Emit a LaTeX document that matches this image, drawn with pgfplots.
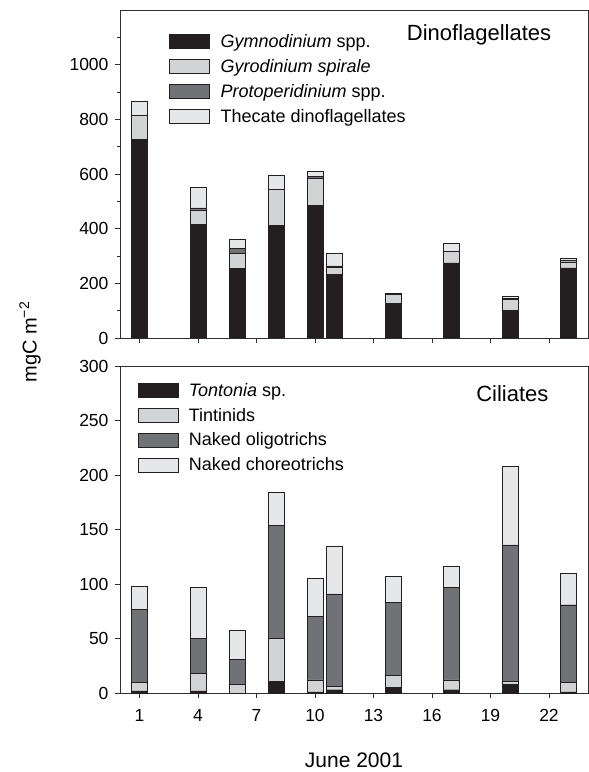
\documentclass[border=0pt]{standalone}
\usepackage{fontspec}
\setmainfont{Liberation Sans}
\usepackage{pgfplots}
\pgfplotsset{compat=1.18}
\usepackage{pgfplotstable}
\definecolor{cblack}{HTML}{231F20}
\definecolor{clight}{HTML}{D1D3D4}
\definecolor{cdark}{HTML}{717275}
\definecolor{cvlight}{HTML}{E6E7E8}
\definecolor{cframe}{HTML}{2E2E2E}

\pgfplotstableread{
day gym gyr pro the
1   727 89  0   51
4   416 53  7   77
6   255 54  20  34
8   413 130 0   53
10  486 99  6   20
11  232 27  5   47
14  127 33  0   5
17  275 44  0   26
20  100 41  4   9
23  257 22  6   7
}\dino

\pgfplotstableread{
day ton tin oli cho
1   2   8   67  21
4   2   16  32  47
6   0   8   23  27
8   11  39  104 30
10  1   11  58  35
11  3   3   85  44
14  5   11  67  24
17  3   9   85  19
20  8   3   125 72
23  1   9   71  29
}\cil

\pgfplotsset{
  common/.style={
    scale only axis, width=468pt,
    xmin=0, xmax=24, xtick={1,4,...,22},
    ybar stacked, bar width=0.82, ymin=0,
    tick align=outside, tick pos=left,
    major tick length=5pt, minor tick length=3pt,
    axis line style={cframe, line width=0.9pt},
    every tick/.style={cframe, line width=0.8pt},
    tick label style={font=\fontsize{17.5}{20}\selectfont},
    yticklabel style={xshift=-3pt},
    xticklabel style={yshift=-8pt},
    /pgf/number format/assume math mode=true,
    /pgf/number format/1000 sep={},
    scaled ticks=false,
    legend image code/.code={\draw[#1, line width=0.8pt] (0pt,-7pt) rectangle (40pt,7pt);},
    legend style={draw=none, fill=none, font=\fontsize{18}{22}\selectfont,
      anchor=north west, row sep=4.3pt, inner sep=0pt,
      nodes={inner sep=3pt},
      /tikz/every odd column/.append style={column sep=7.5pt}},
    legend cell align=left,
  }
}

\begin{document}
\begin{tikzpicture}
\useasboundingbox (0pt,0pt) rectangle (589pt,772pt);

\begin{axis}[common,
  at={(120pt,434pt)}, anchor=south west, height=328pt,
  ymax=1200, ytick={0,200,...,1000}, minor ytick={100,300,...,1100},
  xticklabels={},
  legend style={at={(0.105,0.935)}},
]
\addplot[fill=cblack, draw=cblack] table[x=day, y=gym] {\dino};
\addplot[fill=clight, draw=cblack] table[x=day, y=gyr] {\dino};
\addplot[fill=cdark, draw=cblack] table[x=day, y=pro] {\dino};
\addplot[fill=cvlight, draw=cblack] table[x=day, y=the] {\dino};
\legend{\textit{Gymnodinium} spp., \textit{Gyrodinium spirale}, \textit{Protoperidinium} spp., Thecate dinoflagellates}
\node[anchor=east, font=\fontsize{22}{26}\selectfont] at (axis description cs:0.929,0.924) {Dinoflagellates};
\end{axis}

\begin{axis}[common,
  at={(120pt,79pt)}, anchor=south west, height=327pt,
  ymax=300, ytick={0,50,...,300},
  xlabel={June 2001},
  xlabel style={font=\fontsize{21}{24}\selectfont, yshift=-24pt},
  legend style={at={(0.037,0.957)}},
]
\addplot[fill=cblack, draw=cblack] table[x=day, y=ton] {\cil};
\addplot[fill=clight, draw=cblack] table[x=day, y=tin] {\cil};
\addplot[fill=cdark, draw=cblack] table[x=day, y=oli] {\cil};
\addplot[fill=cvlight, draw=cblack] table[x=day, y=cho] {\cil};
\legend{\textit{Tontonia} sp., Tintinids, Naked oligotrichs, Naked choreotrichs}
\node[anchor=east, font=\fontsize{22}{26}\selectfont] at (axis description cs:0.923,0.917) {Ciliates};
\end{axis}

\node[rotate=90, font=\fontsize{20}{24}\selectfont] at (30pt,430pt) {mgC m\textsuperscript{−2}};
\end{tikzpicture}
\end{document}
